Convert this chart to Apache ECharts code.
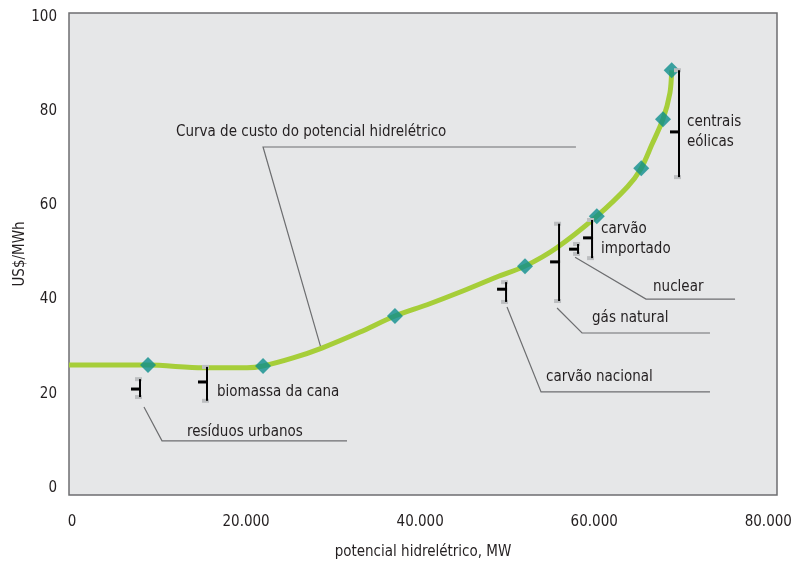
<!DOCTYPE html>
<html>
<head>
<meta charset="utf-8">
<script src="https://cdn.jsdelivr.net/npm/echarts@6/dist/echarts.min.js"></script>
<style>
html,body{margin:0;padding:0;background:#fff;}
#chart{width:792px;height:566px;}
</style>
</head>
<body>
<div id="chart"></div>
<script>
// ---- data ----
const xTicks = [0, 20000, 40000, 60000, 80000];
const yTicks = [0, 20, 40, 60, 80, 100];

// cost curve of the hydro potential (MW, US$/MWh)
const curveX = [-345, 8730, 15050, 20100, 21950, 25400, 28700, 33100, 37100, 40800, 44600, 48800, 52050, 55700, 60300, 63800, 65400, 66600, 67900, 68700, 68900];
const curveY = [26.1, 26.1, 25.5, 25.5, 25.9, 27.6, 29.7, 33.1, 36.5, 38.9, 41.6, 44.8, 47.1, 51.0, 57.7, 63.9, 67.9, 72.8, 78.3, 83.9, 88.7];

// highlighted points on the curve
const pointX = [8730, 21950, 37100, 52050, 60300, 65400, 67900, 68900];
const pointY = [26.1, 25.9, 36.5, 47.1, 57.7, 67.9, 78.3, 88.7];

// alternative source cost ranges
const rangeNames = ['resíduos urbanos', 'biomassa da cana', 'carvão nacional', 'gás natural', 'nuclear', 'carvão importado', 'centrais eólicas'];
const rangeX    = [7810, 15510, 49870, 55960, 58140, 59750, 69740];
const rangeLow  = [19.3, 18.5, 39.5, 39.7, 49.7, 48.8, 66.0];
const rangeHigh = [23.1, 25.7, 43.7, 56.1, 51.8, 56.9, 88.7];
const rangeMid  = [21.0, 22.5, 42.2, 48.0, 50.7, 53.1, 75.6];

// annotation texts (anchor in data coords) and leader lines
const annoText = ['Curva de custo do potencial hidrelétrico', 'resíduos urbanos', 'biomassa da cana', 'carvão nacional', 'gás natural', 'nuclear', 'carvão\nimportado', 'centrais\neólicas'];
const annoAt = [[11950, 75.6], [13210, 11.9], [16660, 20.4], [54460, 23.6], [59750, 36.1], [66760, 42.7], [60780, 52.8], [70660, 75.6]];
const leaders = [
  [[28610, 29.7], [21950, 72.4], [57900, 72.4]],
  [[8270, 17.2], [10340, 10.0], [31600, 10.0]],
  [[49980, 38.4], [53890, 20.4], [73300, 20.4]],
  [[55730, 38.2], [58600, 32.9], [73300, 32.9]],
  [[57800, 49.0], [65950, 40.1], [76180, 40.1]]
];

// ---- chart ----
const FONT = '"Liberation Sans Narrow", "DejaVu Sans Condensed", "Liberation Sans", sans-serif';
const TXT = '#231F20';
const FS = 15;
const chart = echarts.init(document.getElementById('chart'), null, {renderer: 'canvas'});

const fmtX = v => String(v).replace(/\B(?=(\d{3})+(?!\d))/g, '.');

chart.setOption({
  animation: false,
  backgroundColor: '#ffffff',
  textStyle: {fontFamily: FONT},
  grid: {
    left: 69, right: 15, top: 13, bottom: 71,
    outerBoundsMode: 'none', containLabel: false,
    show: true, backgroundColor: '#E6E7E8', borderColor: '#6D6E70', borderWidth: 1.5
  },
  xAxis: {
    type: 'value', min: -345, max: 81000,
    axisLine: {show: false}, axisTick: {show: false}, splitLine: {show: false},
    axisLabel: {customValues: xTicks, formatter: fmtX, color: TXT, fontSize: FS, fontFamily: FONT, margin: 20},
    name: 'potencial hidrelétrico, MW', nameLocation: 'middle', nameGap: 50, nameMoveOverlap: false,
    nameTextStyle: {color: TXT, fontSize: FS, fontFamily: FONT}
  },
  yAxis: {
    type: 'value', min: -1.5, max: 100.85,
    axisLine: {show: false}, axisTick: {show: false}, splitLine: {show: false},
    axisLabel: {customValues: yTicks, color: TXT, fontSize: FS, fontFamily: FONT, margin: 12},
    name: 'US$/MWh', nameLocation: 'middle', nameGap: 41, nameMoveOverlap: false,
    nameTextStyle: {color: TXT, fontSize: FS, fontFamily: FONT}
  },
  series: [
    {
      type: 'custom', name: 'leaders', z: 1, silent: true,
      data: leaders.map((l, i) => [i]),
      renderItem(params, api) {
        const pts = leaders[api.value(0)].map(p => api.coord(p));
        return {type: 'polyline', shape: {points: pts}, style: {stroke: '#6D6E70', lineWidth: 1.2, fill: null}};
      }
    },
    {
      type: 'line', name: 'curve', z: 2, smooth: 0.3, showSymbol: false,
      data: curveX.map((x, i) => [x, curveY[i]]),
      lineStyle: {color: '#A6CE39', width: 5}
    },
    {
      type: 'scatter', name: 'points', z: 3,
      symbol: 'diamond', symbolSize: [16, 16],
      itemStyle: {color: '#0E8E8C'},
      data: pointX.map((x, i) => [x, pointY[i]])
    },
    {
      type: 'custom', name: 'ranges', z: 4, silent: true,
      data: rangeX.map((x, i) => [x, rangeLow[i], rangeHigh[i], rangeMid[i]]),
      renderItem(params, api) {
        const x = api.value(0);
        const top = api.coord([x, api.value(2)]);
        const bot = api.coord([x, api.value(1)]);
        const mid = api.coord([x, api.value(3)]);
        return {type: 'group', children: [
          {type: 'rect', shape: {x: top[0] - 5, y: top[1] - 2, width: 7, height: 4}, style: {fill: '#BCBEC0'}},
          {type: 'rect', shape: {x: bot[0] - 5, y: bot[1] - 2, width: 7, height: 4}, style: {fill: '#BCBEC0'}},
          {type: 'line', shape: {x1: top[0], y1: top[1], x2: bot[0], y2: bot[1]}, style: {stroke: '#000', lineWidth: 2}},
          {type: 'line', shape: {x1: mid[0] - 9, y1: mid[1], x2: mid[0] + 1, y2: mid[1]}, style: {stroke: '#000', lineWidth: 3}}
        ]};
      }
    },
    {
      type: 'custom', name: 'labels', z: 5, silent: true,
      data: annoAt.map((p, i) => [p[0], p[1], i]),
      renderItem(params, api) {
        const c = api.coord([api.value(0), api.value(1)]);
        return {type: 'text', x: c[0], y: c[1], style: {
          text: annoText[api.value(2)], fill: TXT, font: FS + 'px ' + FONT,
          align: 'left', verticalAlign: 'middle', lineHeight: 20
        }};
      }
    }
  ]
});
</script>
</body>
</html>
